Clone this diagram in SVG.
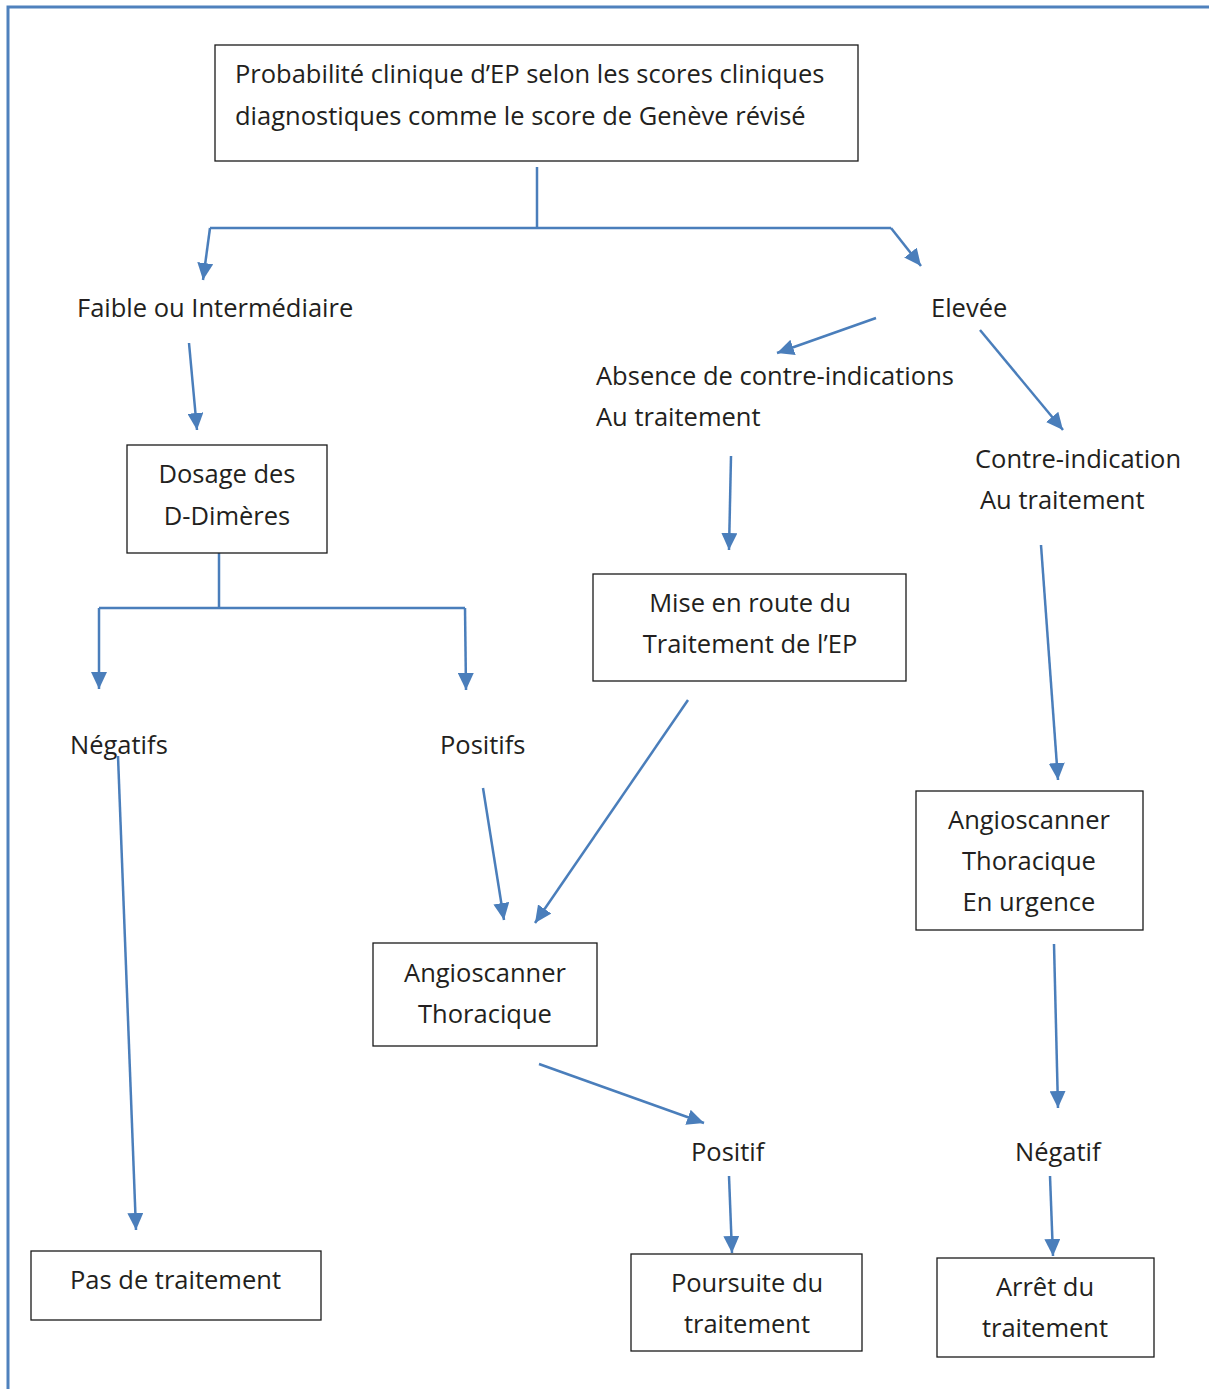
<svg xmlns="http://www.w3.org/2000/svg" width="1209" height="1389" viewBox="0 0 1209 1389">
<style>
.box{fill:#fff;stroke:#1a1a1a;stroke-width:1.3}
.t{font-family:"Open Sans","Noto Sans","Liberation Sans",sans-serif;font-size:25.5px;fill:#231f20}
.m{text-anchor:middle}
.c{fill:none;stroke:#4a7ebb;stroke-width:2.5}
.frame{fill:none;stroke:#4f81bd;stroke-width:3}
</style>
<defs>
<marker id="ah" markerUnits="userSpaceOnUse" markerWidth="17" markerHeight="16" refX="17" refY="8" orient="auto" viewBox="0 0 17 16">
<path d="M0,0 L17,8 L0,16 z" fill="#4a7ebb"/>
</marker>
</defs>
<rect width="1209" height="1389" fill="#fff"/>
<path class="frame" d="M1209,7 H8 V1389"/>
<g id="connectors">
<path class="c" d="M537,167 V228"/>
<path class="c" d="M210,228 H891"/>
<path class="c" d="M210,228 L203,280" marker-end="url(#ah)"/>
<path class="c" d="M891,228 L921,266" marker-end="url(#ah)"/>
<path class="c" d="M189,343 L197,430" marker-end="url(#ah)"/>
<path class="c" d="M219,553 V608"/>
<path class="c" d="M99,608 H465"/>
<path class="c" d="M99,608 V689" marker-end="url(#ah)"/>
<path class="c" d="M465,608 L466,690" marker-end="url(#ah)"/>
<path class="c" d="M118,756 L136,1230" marker-end="url(#ah)"/>
<path class="c" d="M483,788 L504,920" marker-end="url(#ah)"/>
<path class="c" d="M876,318 L777,353" marker-end="url(#ah)"/>
<path class="c" d="M980,330 L1063,430" marker-end="url(#ah)"/>
<path class="c" d="M731,456 L729,550" marker-end="url(#ah)"/>
<path class="c" d="M688,700 L535,923" marker-end="url(#ah)"/>
<path class="c" d="M539,1064 L704,1123" marker-end="url(#ah)"/>
<path class="c" d="M729,1176 L732,1253" marker-end="url(#ah)"/>
<path class="c" d="M1041,545 L1058,780" marker-end="url(#ah)"/>
<path class="c" d="M1054,944 L1058,1108" marker-end="url(#ah)"/>
<path class="c" d="M1050,1176 L1053,1256" marker-end="url(#ah)"/>
</g>
<g id="n-probabilite">
<rect class="box" x="215" y="45" width="643" height="116"/>
<text class="t" x="235" y="83">Probabilité clinique d’EP selon les scores cliniques</text>
<text class="t" x="235" y="125">diagnostiques comme le score de Genève révisé</text>
</g>
<g id="n-faible"><text class="t" x="77" y="317">Faible ou Intermédiaire</text></g>
<g id="n-elevee"><text class="t" x="931" y="317">Elevée</text></g>
<g id="n-dosage">
<rect class="box" x="127" y="445" width="200" height="108"/>
<text class="t m" x="227" y="483">Dosage des</text>
<text class="t m" x="227" y="525">D-Dimères</text>
</g>
<g id="n-negatifs"><text class="t" x="70" y="754">Négatifs</text></g>
<g id="n-positifs"><text class="t" x="440" y="754">Positifs</text></g>
<g id="n-pas">
<rect class="box" x="31" y="1251" width="290" height="69"/>
<text class="t" x="70" y="1289">Pas de traitement</text>
</g>
<g id="n-absence">
<text class="t" x="596" y="385">Absence de contre-indications</text>
<text class="t" x="596" y="426">Au traitement</text>
</g>
<g id="n-contre">
<text class="t" x="975" y="468">Contre-indication</text>
<text class="t" x="980" y="509">Au traitement</text>
</g>
<g id="n-mise">
<rect class="box" x="593" y="574" width="313" height="107"/>
<text class="t m" x="750" y="612">Mise en route du</text>
<text class="t m" x="750" y="653">Traitement de l’EP</text>
</g>
<g id="n-angio">
<rect class="box" x="373" y="943" width="224" height="103"/>
<text class="t m" x="485" y="982">Angioscanner</text>
<text class="t m" x="485" y="1023">Thoracique</text>
</g>
<g id="n-positif"><text class="t" x="691" y="1161">Positif</text></g>
<g id="n-poursuite">
<rect class="box" x="631" y="1254" width="231" height="97"/>
<text class="t m" x="747" y="1292">Poursuite du</text>
<text class="t m" x="747" y="1333">traitement</text>
</g>
<g id="n-angio-urgence">
<rect class="box" x="916" y="791" width="227" height="139"/>
<text class="t m" x="1029" y="829">Angioscanner</text>
<text class="t m" x="1029" y="870">Thoracique</text>
<text class="t m" x="1029" y="911">En urgence</text>
</g>
<g id="n-negatif"><text class="t" x="1015" y="1161">Négatif</text></g>
<g id="n-arret">
<rect class="box" x="937" y="1258" width="217" height="99"/>
<text class="t m" x="1045" y="1296">Arrêt du</text>
<text class="t m" x="1045" y="1337">traitement</text>
</g>
</svg>
